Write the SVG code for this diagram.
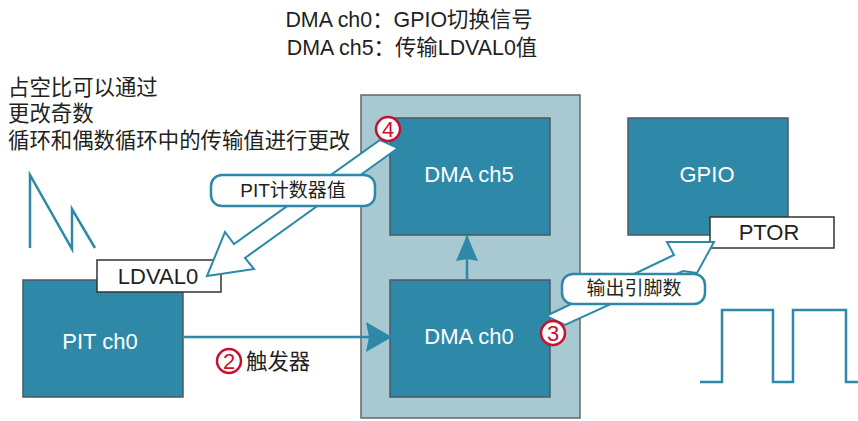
<svg xmlns="http://www.w3.org/2000/svg" width="858" height="421" viewBox="0 0 858 421">
<style>
text{font-family:"Liberation Sans","Noto Sans CJK SC",sans-serif;font-size:21.4px;fill:#231f20}
.m{text-anchor:middle}
.b{fill:#2d89a7;stroke:#4a5a60;stroke-width:1.5}
.w{fill:#fff;text-anchor:middle;font-size:22px}
.t{font-size:22px;text-anchor:middle}
.s{font-size:19px;text-anchor:middle}
.l{fill:#fff;stroke:#333;stroke-width:1.5}
.c{fill:none;stroke:#2d89a7;stroke-width:2.5}
.big{fill:#fff;stroke:#2d89a7;stroke-width:2}
.p{fill:#fff;stroke:#2d89a7;stroke-width:2.5}
.n{fill:#fff;stroke:#c8102e;stroke-width:2.5}
.nt{fill:#c8102e;text-anchor:middle;font-size:22px}
</style>
<defs>
<marker id="a" markerUnits="userSpaceOnUse" markerWidth="28" markerHeight="32" refX="26" refY="15" orient="auto"><path d="M0 0L26 15L0 30L3 15Z" fill="#2d89a7"/></marker>
<marker id="v" markerUnits="userSpaceOnUse" markerWidth="28" markerHeight="24" refX="26" refY="11" orient="auto"><path d="M0 0L26 11L0 22L2 11Z" fill="#2d89a7"/></marker>
</defs>
<rect x="0" y="0" width="858" height="421" fill="#fff"/>
<g id="caption"><text class="m" x="409" y="27">DMA ch0：GPIO切换信号</text><text class="m" x="412" y="55">DMA ch5：传输LDVAL0值</text></g>
<g id="note"><text x="8" y="95">占空比可以通过</text><text x="8" y="121">更改奇数</text><text x="8" y="148">循环和偶数循环中的传输值进行更改</text></g>
<g id="dma-container"><rect x="361" y="95" width="219" height="323" fill="#a8c9d2" stroke="#666" stroke-width="1.5"/></g>
<g id="dma-ch5"><rect class="b" x="390" y="118" width="160" height="117"/><text class="w" x="469" y="182">DMA ch5</text></g>
<g id="dma-ch0"><rect class="b" x="390" y="280" width="160" height="117"/><text class="w" x="469" y="344">DMA ch0</text></g>
<g id="pit-ch0"><rect class="b" x="23" y="280" width="160" height="117"/><text class="w" x="100" y="349">PIT ch0</text></g>
<g id="gpio"><rect class="b" x="628" y="118" width="160" height="117"/><text class="w" x="707" y="182">GPIO</text></g>
<g id="ldval0"><rect class="l" x="97" y="260" width="124" height="32"/><text class="t" x="158" y="284">LDVAL0</text></g>
<g id="ptor"><rect class="l" x="710" y="217" width="124" height="31"/><text class="t" x="769" y="240">PTOR</text></g>
<g id="connectors">
<path class="c" d="M184 337H392" marker-end="url(#a)"/>
<path class="c" d="M467 280V235" marker-end="url(#v)"/>
<path class="big" d="M380 140L398 148L245 258L254 269L207 276L225 232L234 244Z"/>
<path class="big" d="M546 316L674 255L667 242L714 242L697 273L683 271L565 325Z"/>
<path class="c" d="M30 248V175L72 249V209L95 248"/>
<path class="c" d="M700 382H722V310H773V382H793V310H846V382H858"/>
</g>
<g id="label-pit"><rect class="p" x="211" y="175" width="164" height="31" rx="11"/><text class="s" x="293" y="197">PIT计数器值</text></g>
<g id="label-out"><rect class="p" x="562" y="274" width="143" height="30" rx="11"/><text class="s" x="634" y="295">输出引脚数</text></g>
<g id="step-2"><circle class="n" cx="229" cy="361" r="12"/><text class="nt" x="229" y="369">2</text><text x="246" y="369">触发器</text></g>
<g id="step-3"><circle class="n" cx="553" cy="333" r="12"/><text class="nt" x="553" y="341">3</text></g>
<g id="step-4"><circle class="n" cx="388" cy="129" r="12"/><text class="nt" x="388" y="137">4</text></g>
</svg>
